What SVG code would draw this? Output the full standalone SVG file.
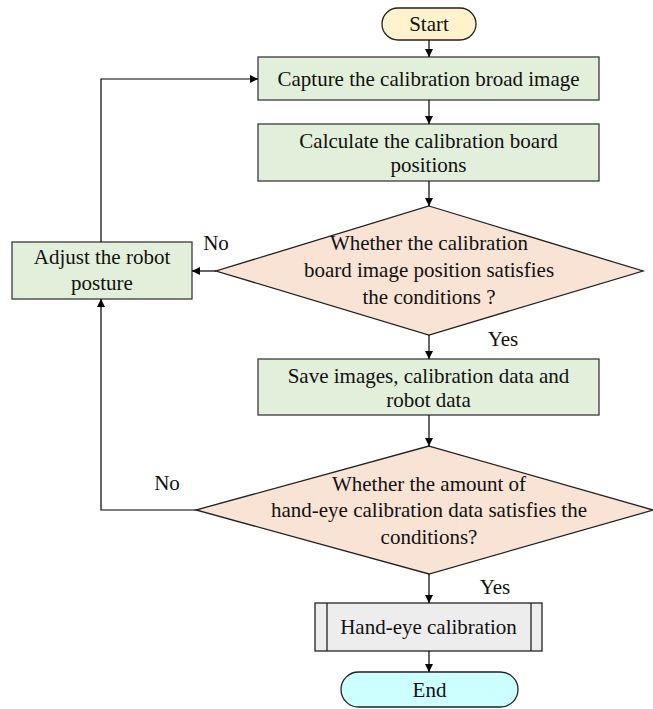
<svg xmlns="http://www.w3.org/2000/svg" width="653" height="709" viewBox="0 0 653 709">
<defs>
<marker id="arr" viewBox="0 0 10 10" refX="10" refY="5" markerWidth="8" markerHeight="8" markerUnits="userSpaceOnUse" orient="auto">
<path d="M0,0 L10,5 L0,10 z" fill="#000"/>
</marker>
<style>
.box{fill:#e2efda;stroke:#3a3a3a;stroke-width:1.3}
.dia{fill:#f8e3d4;stroke:#222;stroke-width:1.3}
.t{font-size:21px;fill:#111;text-anchor:middle}
.c{fill:none;stroke:#000;stroke-width:1.2}
</style>
</defs>
<rect width="653" height="709" fill="#fff"/>
<g font-family="Liberation Serif, Times New Roman, DejaVu Serif, serif">
<g id="start">
<rect x="382" y="8" width="94" height="32" rx="16" fill="#fff2cc" stroke="#222" stroke-width="1.3"/>
<text class="t" x="429" y="31">Start</text>
</g>
<g id="capture">
<rect class="box" x="258" y="57" width="341" height="43"/>
<text class="t" x="428.5" y="86">Capture the calibration broad image</text>
</g>
<g id="calculate">
<rect class="box" x="258" y="124" width="341" height="57"/>
<text class="t" x="428.5" y="148">Calculate the calibration board</text>
<text class="t" x="428.5" y="172">positions</text>
</g>
<g id="decision1">
<polygon class="dia" points="429,206 643,271 429,335 216,271"/>
<text class="t" x="429" y="250">Whether the calibration</text>
<text class="t" x="429" y="277">board image position satisfies</text>
<text class="t" x="429" y="304">the conditions ?</text>
</g>
<g id="adjust">
<rect class="box" x="12" y="242" width="180" height="57"/>
<text class="t" x="102" y="264">Adjust the robot</text>
<text class="t" x="102" y="290">posture</text>
</g>
<g id="save">
<rect class="box" x="258" y="359" width="341" height="56"/>
<text class="t" x="428.5" y="383">Save images, calibration data and</text>
<text class="t" x="428.5" y="407">robot data</text>
</g>
<g id="decision2">
<polygon class="dia" points="429,446 653,510 429,574 196,510"/>
<text class="t" x="429" y="491">Whether the amount of</text>
<text class="t" x="429" y="517">hand-eye calibration data satisfies the</text>
<text class="t" x="429" y="544">conditions?</text>
</g>
<g id="handeye">
<rect x="315" y="603" width="227" height="48" fill="#ededed" stroke="#222" stroke-width="1.3"/>
<line x1="327" y1="603" x2="327" y2="651" stroke="#222" stroke-width="1.3"/>
<line x1="531" y1="603" x2="531" y2="651" stroke="#222" stroke-width="1.3"/>
<text class="t" x="428.5" y="634">Hand-eye calibration</text>
</g>
<g id="end">
<rect x="341" y="672" width="177" height="35" rx="17.5" fill="#ccffff" stroke="#222" stroke-width="1.3"/>
<text class="t" x="429.5" y="697">End</text>
</g>
<g id="connectors">
<line class="c" x1="429" y1="40" x2="429" y2="57" marker-end="url(#arr)"/>
<line class="c" x1="429" y1="100" x2="429" y2="124" marker-end="url(#arr)"/>
<line class="c" x1="429" y1="181" x2="429" y2="206" marker-end="url(#arr)"/>
<line class="c" x1="216" y1="271" x2="192" y2="271" marker-end="url(#arr)"/>
<line class="c" x1="429" y1="335" x2="429" y2="359" marker-end="url(#arr)"/>
<line class="c" x1="429" y1="415" x2="429" y2="446" marker-end="url(#arr)"/>
<polyline class="c" points="196,510 101,510 101,299" marker-end="url(#arr)"/>
<polyline class="c" points="101,242 101,79 258,79" marker-end="url(#arr)"/>
<line class="c" x1="429" y1="574" x2="429" y2="603" marker-end="url(#arr)"/>
<line class="c" x1="429" y1="651" x2="429" y2="672" marker-end="url(#arr)"/>
<text class="t" x="216" y="250">No</text>
<text class="t" x="503" y="346">Yes</text>
<text class="t" x="167" y="490">No</text>
<text class="t" x="495" y="594">Yes</text>
</g>
</g>
</svg>
